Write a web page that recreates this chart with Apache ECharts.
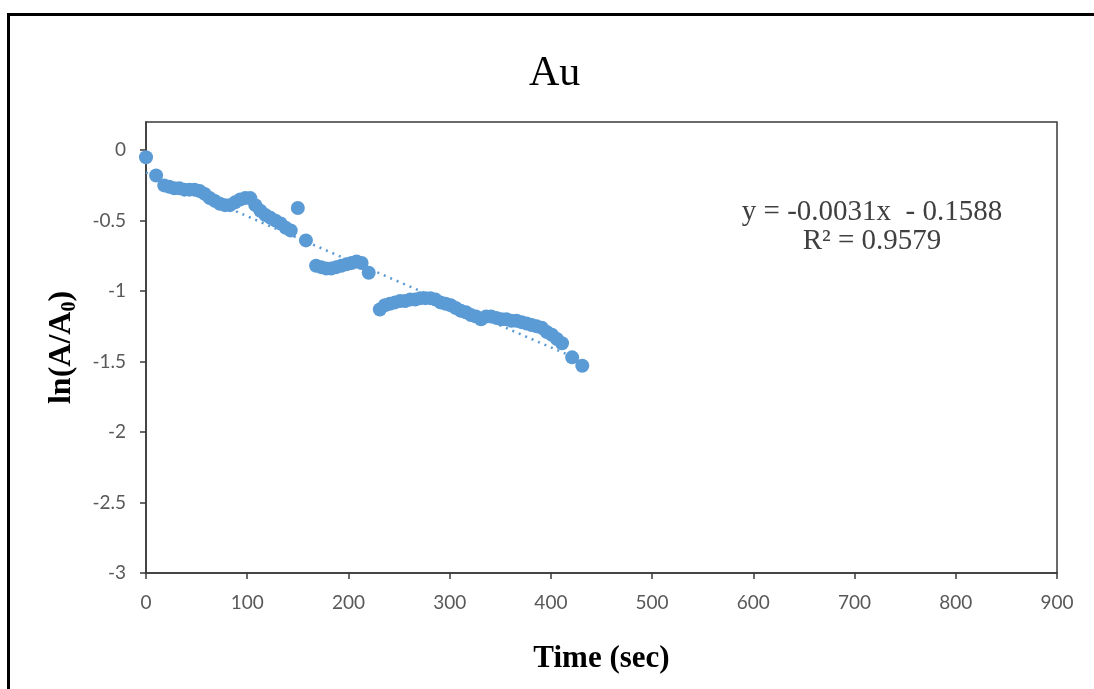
<!DOCTYPE html>
<html>
<head>
<meta charset="utf-8">
<script src="https://cdn.jsdelivr.net/npm/echarts@6/dist/echarts.min.js"></script>
<style>
  html, body { margin: 0; padding: 0; background: #fff; }
  #chart { width: 1094px; height: 689px; }
</style>
</head>
<body>
<div id="chart"></div>
<script>
// Au decay: ln(A/A0) against time, with linear trendline
const timeSec = [0, 10, 18, 23, 28, 33, 38, 43, 48, 53, 58, 63, 68, 73, 78, 83, 88, 93, 98, 103,
  108, 113, 118, 123, 128, 133, 138, 143, 150, 158, 168, 173, 178, 183, 188, 193, 198, 203, 208, 213,
  220, 231, 236, 241, 246, 251, 256, 261, 266, 271, 276, 281, 286, 291, 296, 301, 306, 311, 316, 321,
  326, 331, 336, 341, 346, 351, 356, 361, 366, 371, 376, 381, 386, 391, 396, 401, 406, 411, 421, 431];
const lnRatio = [-0.05, -0.18, -0.25, -0.26, -0.27, -0.27, -0.28, -0.28, -0.28, -0.29, -0.31, -0.34,
  -0.36, -0.38, -0.39, -0.39, -0.37, -0.35, -0.34, -0.34, -0.39, -0.43, -0.46, -0.48, -0.50, -0.52,
  -0.55, -0.57, -0.41, -0.64, -0.82, -0.83, -0.84, -0.84, -0.83, -0.82, -0.81, -0.80, -0.79, -0.80,
  -0.87, -1.13, -1.10, -1.09, -1.08, -1.07, -1.07, -1.06, -1.06, -1.05, -1.05, -1.05, -1.06, -1.08,
  -1.09, -1.10, -1.12, -1.14, -1.15, -1.17, -1.18, -1.20, -1.18, -1.18, -1.19, -1.20, -1.20, -1.21,
  -1.21, -1.22, -1.23, -1.24, -1.25, -1.26, -1.29, -1.31, -1.34, -1.37, -1.47, -1.53];

// fitted line y = slope * x + intercept
const slope = -0.0031;
const intercept = -0.1588;
const rSquared = 0.9579;

const xTicks = [0, 100, 200, 300, 400, 500, 600, 700, 800, 900];
const yTicks = [-3, -2.5, -2, -1.5, -1, -0.5, 0];

const points = timeSec.map((t, i) => [t, lnRatio[i]]);
const tEnd = timeSec[timeSec.length - 1];
const fitLine = [[0, intercept], [tEnd, slope * tEnd + intercept]];

const chart = echarts.init(document.getElementById('chart'));
const tickFont = { color: '#595959', fontSize: 19, fontFamily: 'Lato' };

chart.setOption({
  backgroundColor: '#ffffff',
  animation: false,
  title: {
    text: 'Au',
    left: 524,
    top: 48,
    textStyle: { fontFamily: 'Liberation Serif', fontWeight: 'normal', fontSize: 42, color: '#000' }
  },
  grid: {
    left: 146, top: 122, right: 37, bottom: 116,
    show: true, borderColor: '#3a3a3a', borderWidth: 1.5, backgroundColor: '#fff'
  },
  xAxis: {
    type: 'value',
    min: 0, max: 900, interval: 100,
    name: 'Time (sec)',
    nameLocation: 'middle',
    nameGap: 70,
    nameTextStyle: { fontFamily: 'Liberation Serif', fontWeight: 'bold', fontSize: 31, color: '#000' },
    axisLine: { show: true, onZero: false, lineStyle: { color: '#3a3a3a', width: 1.5 } },
    axisTick: { show: true, length: 6, inside: false, lineStyle: { color: '#3a3a3a', width: 1.5 }, customValues: xTicks },
    axisLabel: Object.assign({ margin: 20, customValues: xTicks }, tickFont),
    splitLine: { show: false }
  },
  yAxis: {
    type: 'value',
    min: -3, max: 0.2, interval: 0.5,
    name: 'ln(A/A{sub|0})',
    nameLocation: 'middle',
    nameRotate: 90,
    nameGap: 66,
    nameTextStyle: {
      fontFamily: 'Liberation Serif', fontWeight: 'bold', fontSize: 32, color: '#000',
      rich: { sub: { fontFamily: 'Liberation Serif', fontWeight: 'bold', fontSize: 20, color: '#000', padding: [16, 0, 0, 0] } }
    },
    axisLine: { show: true, onZero: false, lineStyle: { color: '#3a3a3a', width: 1.5 } },
    axisTick: { show: true, length: 6, inside: false, lineStyle: { color: '#3a3a3a', width: 1.5 }, customValues: yTicks },
    axisLabel: Object.assign({ margin: 20, customValues: yTicks }, tickFont),
    splitLine: { show: false }
  },
  series: [
    {
      type: 'line',
      data: fitLine,
      showSymbol: false,
      symbol: 'none',
      lineStyle: { color: '#5B9BD5', width: 2.5, type: [2, 5] },
      z: 2
    },
    {
      type: 'scatter',
      data: points,
      symbol: 'circle',
      symbolSize: 14,
      itemStyle: { color: '#5B9BD5', opacity: 1 },
      z: 3
    }
  ],
  graphic: [
    {
      type: 'rect',
      shape: { x: 8.5, y: 14.5, width: 1200, height: 800 },
      style: { fill: 'none', stroke: '#000', lineWidth: 3 },
      silent: true, z: 100
    },
    {
      type: 'text',
      x: 872, y: 212,
      style: {
        text: 'y = -' + Math.abs(slope).toFixed(4) + 'x  - ' + Math.abs(intercept).toFixed(4),
        align: 'center', verticalAlign: 'middle',
        fontFamily: 'Liberation Serif', fontSize: 29, fill: '#404040'
      },
      z: 50
    },
    {
      type: 'text',
      x: 872, y: 241,
      style: {
        text: 'R² = ' + rSquared.toFixed(4),
        align: 'center', verticalAlign: 'middle',
        fontFamily: 'Liberation Serif', fontSize: 29, fill: '#404040'
      },
      z: 50
    }
  ]
});
</script>
</body>
</html>
